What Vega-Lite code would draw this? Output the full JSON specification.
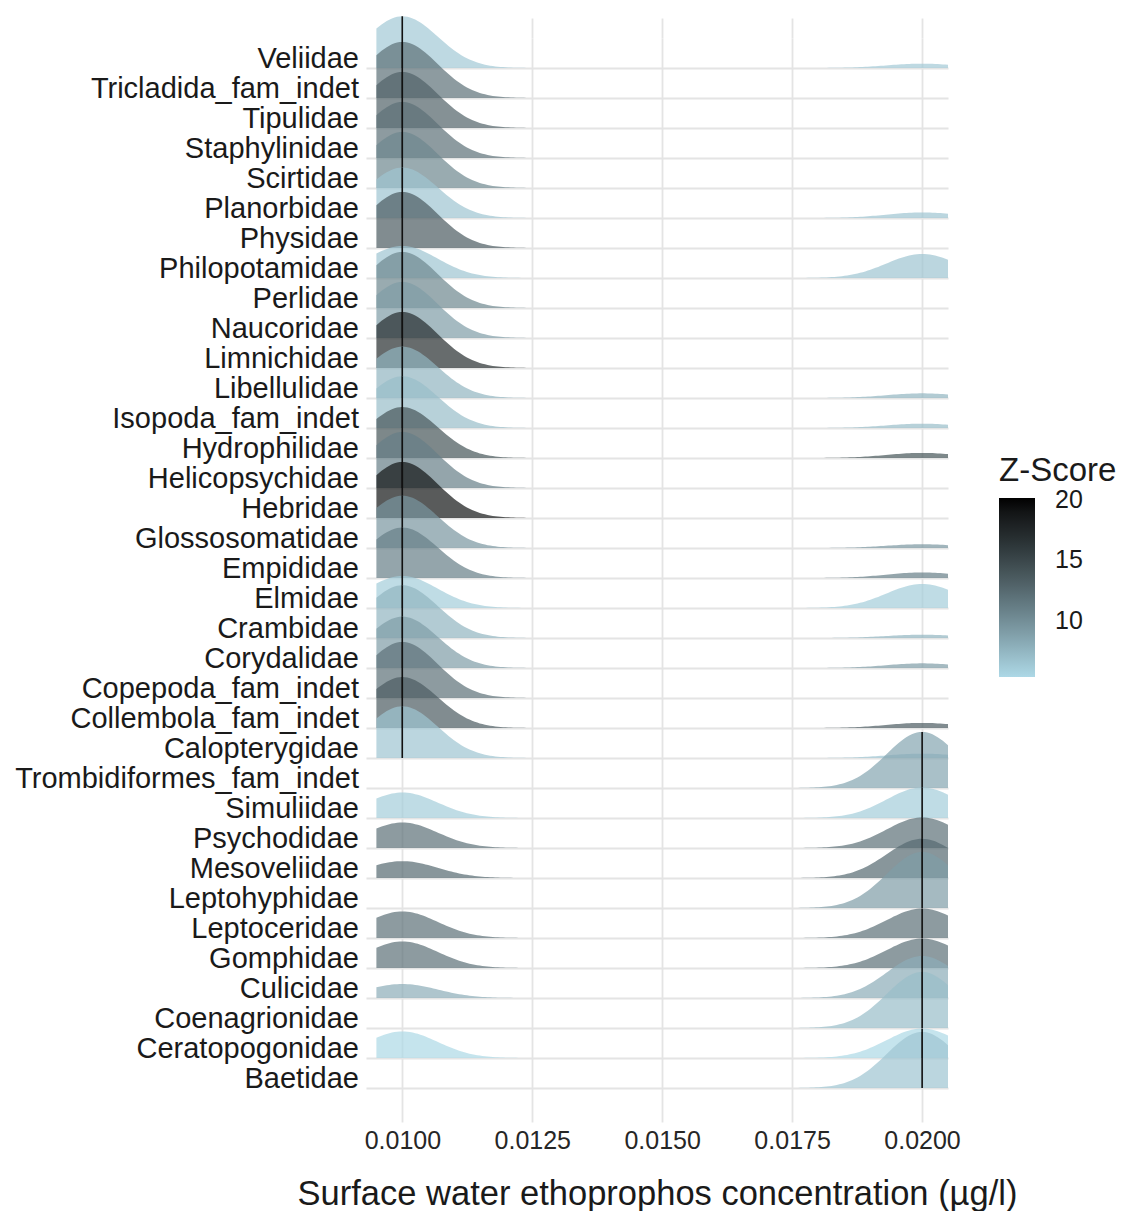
{
  "$schema": "https://vega.github.io/schema/vega-lite/v6.json",
  "padding": {"left": 15, "top": 15, "right": 0, "bottom": 0},
  "bounds": "flush",
  "config": {
    "font": "Liberation Sans",
    "view": {"stroke": null}
  },
  "data": {
    "values": [
      {"taxon": "Veliidae", "zscore": 6.2, "conc": 0.01}, {"taxon": "Veliidae", "zscore": 6.2, "conc": 0.01}, {"taxon": "Veliidae", "zscore": 6.2, "conc": 0.01}, {"taxon": "Veliidae", "zscore": 6.2, "conc": 0.01},
      {"taxon": "Veliidae", "zscore": 6.2, "conc": 0.01}, {"taxon": "Veliidae", "zscore": 6.2, "conc": 0.01}, {"taxon": "Veliidae", "zscore": 6.2, "conc": 0.01}, {"taxon": "Veliidae", "zscore": 6.2, "conc": 0.01},
      {"taxon": "Veliidae", "zscore": 6.2, "conc": 0.01}, {"taxon": "Veliidae", "zscore": 6.2, "conc": 0.01}, {"taxon": "Veliidae", "zscore": 6.2, "conc": 0.01}, {"taxon": "Veliidae", "zscore": 6.2, "conc": 0.01},
      {"taxon": "Veliidae", "zscore": 6.2, "conc": 0.02},
      {"taxon": "Tricladida_fam_indet", "zscore": 12, "conc": 0.01},
      {"taxon": "Tipulidae", "zscore": 13, "conc": 0.01},
      {"taxon": "Staphylinidae", "zscore": 12, "conc": 0.01},
      {"taxon": "Scirtidae", "zscore": 10.5, "conc": 0.01},
      {"taxon": "Planorbidae", "zscore": 6.5, "conc": 0.01}, {"taxon": "Planorbidae", "zscore": 6.5, "conc": 0.01}, {"taxon": "Planorbidae", "zscore": 6.5, "conc": 0.01},
      {"taxon": "Planorbidae", "zscore": 6.5, "conc": 0.01}, {"taxon": "Planorbidae", "zscore": 6.5, "conc": 0.01}, {"taxon": "Planorbidae", "zscore": 6.5, "conc": 0.01},
      {"taxon": "Planorbidae", "zscore": 6.5, "conc": 0.01}, {"taxon": "Planorbidae", "zscore": 6.5, "conc": 0.01}, {"taxon": "Planorbidae", "zscore": 6.5, "conc": 0.01},
      {"taxon": "Planorbidae", "zscore": 6.5, "conc": 0.02},
      {"taxon": "Physidae", "zscore": 13.5, "conc": 0.01},
      {"taxon": "Philopotamidae", "zscore": 6.5, "conc": 0.01}, {"taxon": "Philopotamidae", "zscore": 6.5, "conc": 0.01}, {"taxon": "Philopotamidae", "zscore": 6.5, "conc": 0.01}, {"taxon": "Philopotamidae", "zscore": 6.5, "conc": 0.01},
      {"taxon": "Philopotamidae", "zscore": 6.5, "conc": 0.02}, {"taxon": "Philopotamidae", "zscore": 6.5, "conc": 0.02}, {"taxon": "Philopotamidae", "zscore": 6.5, "conc": 0.02},
      {"taxon": "Perlidae", "zscore": 10.5, "conc": 0.01},
      {"taxon": "Naucoridae", "zscore": 9, "conc": 0.01},
      {"taxon": "Limnichidae", "zscore": 17, "conc": 0.01},
      {"taxon": "Libellulidae", "zscore": 7.5, "conc": 0.01}, {"taxon": "Libellulidae", "zscore": 7.5, "conc": 0.01}, {"taxon": "Libellulidae", "zscore": 7.5, "conc": 0.01}, {"taxon": "Libellulidae", "zscore": 7.5, "conc": 0.01},
      {"taxon": "Libellulidae", "zscore": 7.5, "conc": 0.01}, {"taxon": "Libellulidae", "zscore": 7.5, "conc": 0.01}, {"taxon": "Libellulidae", "zscore": 7.5, "conc": 0.01}, {"taxon": "Libellulidae", "zscore": 7.5, "conc": 0.01},
      {"taxon": "Libellulidae", "zscore": 7.5, "conc": 0.01}, {"taxon": "Libellulidae", "zscore": 7.5, "conc": 0.01}, {"taxon": "Libellulidae", "zscore": 7.5, "conc": 0.01},
      {"taxon": "Libellulidae", "zscore": 7.5, "conc": 0.02},
      {"taxon": "Isopoda_fam_indet", "zscore": 7, "conc": 0.01}, {"taxon": "Isopoda_fam_indet", "zscore": 7, "conc": 0.01}, {"taxon": "Isopoda_fam_indet", "zscore": 7, "conc": 0.01}, {"taxon": "Isopoda_fam_indet", "zscore": 7, "conc": 0.01},
      {"taxon": "Isopoda_fam_indet", "zscore": 7, "conc": 0.01}, {"taxon": "Isopoda_fam_indet", "zscore": 7, "conc": 0.01}, {"taxon": "Isopoda_fam_indet", "zscore": 7, "conc": 0.01}, {"taxon": "Isopoda_fam_indet", "zscore": 7, "conc": 0.01},
      {"taxon": "Isopoda_fam_indet", "zscore": 7, "conc": 0.01}, {"taxon": "Isopoda_fam_indet", "zscore": 7, "conc": 0.01}, {"taxon": "Isopoda_fam_indet", "zscore": 7, "conc": 0.01}, {"taxon": "Isopoda_fam_indet", "zscore": 7, "conc": 0.01},
      {"taxon": "Isopoda_fam_indet", "zscore": 7, "conc": 0.02},
      {"taxon": "Hydrophilidae", "zscore": 14, "conc": 0.01}, {"taxon": "Hydrophilidae", "zscore": 14, "conc": 0.01}, {"taxon": "Hydrophilidae", "zscore": 14, "conc": 0.01}, {"taxon": "Hydrophilidae", "zscore": 14, "conc": 0.01},
      {"taxon": "Hydrophilidae", "zscore": 14, "conc": 0.01}, {"taxon": "Hydrophilidae", "zscore": 14, "conc": 0.01}, {"taxon": "Hydrophilidae", "zscore": 14, "conc": 0.01}, {"taxon": "Hydrophilidae", "zscore": 14, "conc": 0.01},
      {"taxon": "Hydrophilidae", "zscore": 14, "conc": 0.01}, {"taxon": "Hydrophilidae", "zscore": 14, "conc": 0.01},
      {"taxon": "Hydrophilidae", "zscore": 14, "conc": 0.02},
      {"taxon": "Helicopsychidae", "zscore": 11, "conc": 0.01},
      {"taxon": "Hebridae", "zscore": 19, "conc": 0.01},
      {"taxon": "Glossosomatidae", "zscore": 9.5, "conc": 0.01}, {"taxon": "Glossosomatidae", "zscore": 9.5, "conc": 0.01}, {"taxon": "Glossosomatidae", "zscore": 9.5, "conc": 0.01}, {"taxon": "Glossosomatidae", "zscore": 9.5, "conc": 0.01},
      {"taxon": "Glossosomatidae", "zscore": 9.5, "conc": 0.01}, {"taxon": "Glossosomatidae", "zscore": 9.5, "conc": 0.01}, {"taxon": "Glossosomatidae", "zscore": 9.5, "conc": 0.01}, {"taxon": "Glossosomatidae", "zscore": 9.5, "conc": 0.01},
      {"taxon": "Glossosomatidae", "zscore": 9.5, "conc": 0.01}, {"taxon": "Glossosomatidae", "zscore": 9.5, "conc": 0.01}, {"taxon": "Glossosomatidae", "zscore": 9.5, "conc": 0.01}, {"taxon": "Glossosomatidae", "zscore": 9.5, "conc": 0.01},
      {"taxon": "Glossosomatidae", "zscore": 9.5, "conc": 0.01}, {"taxon": "Glossosomatidae", "zscore": 9.5, "conc": 0.01},
      {"taxon": "Glossosomatidae", "zscore": 9.5, "conc": 0.02},
      {"taxon": "Empididae", "zscore": 11, "conc": 0.01}, {"taxon": "Empididae", "zscore": 11, "conc": 0.01}, {"taxon": "Empididae", "zscore": 11, "conc": 0.01}, {"taxon": "Empididae", "zscore": 11, "conc": 0.01},
      {"taxon": "Empididae", "zscore": 11, "conc": 0.01}, {"taxon": "Empididae", "zscore": 11, "conc": 0.01}, {"taxon": "Empididae", "zscore": 11, "conc": 0.01}, {"taxon": "Empididae", "zscore": 11, "conc": 0.01},
      {"taxon": "Empididae", "zscore": 11, "conc": 0.01},
      {"taxon": "Empididae", "zscore": 11, "conc": 0.02},
      {"taxon": "Elmidae", "zscore": 6, "conc": 0.01}, {"taxon": "Elmidae", "zscore": 6, "conc": 0.01}, {"taxon": "Elmidae", "zscore": 6, "conc": 0.01}, {"taxon": "Elmidae", "zscore": 6, "conc": 0.01},
      {"taxon": "Elmidae", "zscore": 6, "conc": 0.02}, {"taxon": "Elmidae", "zscore": 6, "conc": 0.02}, {"taxon": "Elmidae", "zscore": 6, "conc": 0.02},
      {"taxon": "Crambidae", "zscore": 7.5, "conc": 0.01}, {"taxon": "Crambidae", "zscore": 7.5, "conc": 0.01}, {"taxon": "Crambidae", "zscore": 7.5, "conc": 0.01}, {"taxon": "Crambidae", "zscore": 7.5, "conc": 0.01},
      {"taxon": "Crambidae", "zscore": 7.5, "conc": 0.01}, {"taxon": "Crambidae", "zscore": 7.5, "conc": 0.01}, {"taxon": "Crambidae", "zscore": 7.5, "conc": 0.01}, {"taxon": "Crambidae", "zscore": 7.5, "conc": 0.01},
      {"taxon": "Crambidae", "zscore": 7.5, "conc": 0.01}, {"taxon": "Crambidae", "zscore": 7.5, "conc": 0.01}, {"taxon": "Crambidae", "zscore": 7.5, "conc": 0.01}, {"taxon": "Crambidae", "zscore": 7.5, "conc": 0.01},
      {"taxon": "Crambidae", "zscore": 7.5, "conc": 0.01}, {"taxon": "Crambidae", "zscore": 7.5, "conc": 0.01}, {"taxon": "Crambidae", "zscore": 7.5, "conc": 0.01}, {"taxon": "Crambidae", "zscore": 7.5, "conc": 0.01},
      {"taxon": "Crambidae", "zscore": 7.5, "conc": 0.02},
      {"taxon": "Corydalidae", "zscore": 9, "conc": 0.01}, {"taxon": "Corydalidae", "zscore": 9, "conc": 0.01}, {"taxon": "Corydalidae", "zscore": 9, "conc": 0.01}, {"taxon": "Corydalidae", "zscore": 9, "conc": 0.01},
      {"taxon": "Corydalidae", "zscore": 9, "conc": 0.01}, {"taxon": "Corydalidae", "zscore": 9, "conc": 0.01}, {"taxon": "Corydalidae", "zscore": 9, "conc": 0.01}, {"taxon": "Corydalidae", "zscore": 9, "conc": 0.01},
      {"taxon": "Corydalidae", "zscore": 9, "conc": 0.01}, {"taxon": "Corydalidae", "zscore": 9, "conc": 0.01}, {"taxon": "Corydalidae", "zscore": 9, "conc": 0.01},
      {"taxon": "Corydalidae", "zscore": 9, "conc": 0.02},
      {"taxon": "Copepoda_fam_indet", "zscore": 12, "conc": 0.01},
      {"taxon": "Collembola_fam_indet", "zscore": 13.5, "conc": 0.01}, {"taxon": "Collembola_fam_indet", "zscore": 13.5, "conc": 0.01}, {"taxon": "Collembola_fam_indet", "zscore": 13.5, "conc": 0.01}, {"taxon": "Collembola_fam_indet", "zscore": 13.5, "conc": 0.01},
      {"taxon": "Collembola_fam_indet", "zscore": 13.5, "conc": 0.01}, {"taxon": "Collembola_fam_indet", "zscore": 13.5, "conc": 0.01}, {"taxon": "Collembola_fam_indet", "zscore": 13.5, "conc": 0.01}, {"taxon": "Collembola_fam_indet", "zscore": 13.5, "conc": 0.01},
      {"taxon": "Collembola_fam_indet", "zscore": 13.5, "conc": 0.01}, {"taxon": "Collembola_fam_indet", "zscore": 13.5, "conc": 0.01},
      {"taxon": "Collembola_fam_indet", "zscore": 13.5, "conc": 0.02},
      {"taxon": "Calopterygidae", "zscore": 6.5, "conc": 0.01}, {"taxon": "Calopterygidae", "zscore": 6.5, "conc": 0.01}, {"taxon": "Calopterygidae", "zscore": 6.5, "conc": 0.01}, {"taxon": "Calopterygidae", "zscore": 6.5, "conc": 0.01},
      {"taxon": "Calopterygidae", "zscore": 6.5, "conc": 0.01}, {"taxon": "Calopterygidae", "zscore": 6.5, "conc": 0.01}, {"taxon": "Calopterygidae", "zscore": 6.5, "conc": 0.01}, {"taxon": "Calopterygidae", "zscore": 6.5, "conc": 0.01},
      {"taxon": "Calopterygidae", "zscore": 6.5, "conc": 0.01}, {"taxon": "Calopterygidae", "zscore": 6.5, "conc": 0.01}, {"taxon": "Calopterygidae", "zscore": 6.5, "conc": 0.01}, {"taxon": "Calopterygidae", "zscore": 6.5, "conc": 0.01},
      {"taxon": "Calopterygidae", "zscore": 6.5, "conc": 0.02},
      {"taxon": "Trombidiformes_fam_indet", "zscore": 8.5, "conc": 0.02},
      {"taxon": "Simuliidae", "zscore": 6, "conc": 0.01}, {"taxon": "Simuliidae", "zscore": 6, "conc": 0.01}, {"taxon": "Simuliidae", "zscore": 6, "conc": 0.01}, {"taxon": "Simuliidae", "zscore": 6, "conc": 0.01}, {"taxon": "Simuliidae", "zscore": 6, "conc": 0.01},
      {"taxon": "Simuliidae", "zscore": 6, "conc": 0.02}, {"taxon": "Simuliidae", "zscore": 6, "conc": 0.02}, {"taxon": "Simuliidae", "zscore": 6, "conc": 0.02}, {"taxon": "Simuliidae", "zscore": 6, "conc": 0.02}, {"taxon": "Simuliidae", "zscore": 6, "conc": 0.02}, {"taxon": "Simuliidae", "zscore": 6, "conc": 0.02},
      {"taxon": "Psychodidae", "zscore": 12, "conc": 0.01}, {"taxon": "Psychodidae", "zscore": 12, "conc": 0.01}, {"taxon": "Psychodidae", "zscore": 12, "conc": 0.01}, {"taxon": "Psychodidae", "zscore": 12, "conc": 0.01}, {"taxon": "Psychodidae", "zscore": 12, "conc": 0.01},
      {"taxon": "Psychodidae", "zscore": 12, "conc": 0.02}, {"taxon": "Psychodidae", "zscore": 12, "conc": 0.02}, {"taxon": "Psychodidae", "zscore": 12, "conc": 0.02}, {"taxon": "Psychodidae", "zscore": 12, "conc": 0.02}, {"taxon": "Psychodidae", "zscore": 12, "conc": 0.02}, {"taxon": "Psychodidae", "zscore": 12, "conc": 0.02},
      {"taxon": "Mesoveliidae", "zscore": 12.5, "conc": 0.01}, {"taxon": "Mesoveliidae", "zscore": 12.5, "conc": 0.01}, {"taxon": "Mesoveliidae", "zscore": 12.5, "conc": 0.01},
      {"taxon": "Mesoveliidae", "zscore": 12.5, "conc": 0.02}, {"taxon": "Mesoveliidae", "zscore": 12.5, "conc": 0.02}, {"taxon": "Mesoveliidae", "zscore": 12.5, "conc": 0.02}, {"taxon": "Mesoveliidae", "zscore": 12.5, "conc": 0.02},
      {"taxon": "Mesoveliidae", "zscore": 12.5, "conc": 0.02}, {"taxon": "Mesoveliidae", "zscore": 12.5, "conc": 0.02}, {"taxon": "Mesoveliidae", "zscore": 12.5, "conc": 0.02},
      {"taxon": "Leptohyphidae", "zscore": 9, "conc": 0.02},
      {"taxon": "Leptoceridae", "zscore": 12, "conc": 0.01}, {"taxon": "Leptoceridae", "zscore": 12, "conc": 0.01}, {"taxon": "Leptoceridae", "zscore": 12, "conc": 0.01}, {"taxon": "Leptoceridae", "zscore": 12, "conc": 0.01}, {"taxon": "Leptoceridae", "zscore": 12, "conc": 0.01},
      {"taxon": "Leptoceridae", "zscore": 12, "conc": 0.01}, {"taxon": "Leptoceridae", "zscore": 12, "conc": 0.01}, {"taxon": "Leptoceridae", "zscore": 12, "conc": 0.01}, {"taxon": "Leptoceridae", "zscore": 12, "conc": 0.01},
      {"taxon": "Leptoceridae", "zscore": 12, "conc": 0.02}, {"taxon": "Leptoceridae", "zscore": 12, "conc": 0.02}, {"taxon": "Leptoceridae", "zscore": 12, "conc": 0.02}, {"taxon": "Leptoceridae", "zscore": 12, "conc": 0.02}, {"taxon": "Leptoceridae", "zscore": 12, "conc": 0.02},
      {"taxon": "Leptoceridae", "zscore": 12, "conc": 0.02}, {"taxon": "Leptoceridae", "zscore": 12, "conc": 0.02}, {"taxon": "Leptoceridae", "zscore": 12, "conc": 0.02}, {"taxon": "Leptoceridae", "zscore": 12, "conc": 0.02}, {"taxon": "Leptoceridae", "zscore": 12, "conc": 0.02},
      {"taxon": "Gomphidae", "zscore": 12, "conc": 0.01}, {"taxon": "Gomphidae", "zscore": 12, "conc": 0.01}, {"taxon": "Gomphidae", "zscore": 12, "conc": 0.01}, {"taxon": "Gomphidae", "zscore": 12, "conc": 0.01}, {"taxon": "Gomphidae", "zscore": 12, "conc": 0.01},
      {"taxon": "Gomphidae", "zscore": 12, "conc": 0.01}, {"taxon": "Gomphidae", "zscore": 12, "conc": 0.01}, {"taxon": "Gomphidae", "zscore": 12, "conc": 0.01}, {"taxon": "Gomphidae", "zscore": 12, "conc": 0.01},
      {"taxon": "Gomphidae", "zscore": 12, "conc": 0.02}, {"taxon": "Gomphidae", "zscore": 12, "conc": 0.02}, {"taxon": "Gomphidae", "zscore": 12, "conc": 0.02}, {"taxon": "Gomphidae", "zscore": 12, "conc": 0.02}, {"taxon": "Gomphidae", "zscore": 12, "conc": 0.02},
      {"taxon": "Gomphidae", "zscore": 12, "conc": 0.02}, {"taxon": "Gomphidae", "zscore": 12, "conc": 0.02}, {"taxon": "Gomphidae", "zscore": 12, "conc": 0.02}, {"taxon": "Gomphidae", "zscore": 12, "conc": 0.02}, {"taxon": "Gomphidae", "zscore": 12, "conc": 0.02},
      {"taxon": "Culicidae", "zscore": 8, "conc": 0.01},
      {"taxon": "Culicidae", "zscore": 8, "conc": 0.02}, {"taxon": "Culicidae", "zscore": 8, "conc": 0.02}, {"taxon": "Culicidae", "zscore": 8, "conc": 0.02},
      {"taxon": "Coenagrionidae", "zscore": 7, "conc": 0.02},
      {"taxon": "Ceratopogonidae", "zscore": 5.3, "conc": 0.01}, {"taxon": "Ceratopogonidae", "zscore": 5.3, "conc": 0.01}, {"taxon": "Ceratopogonidae", "zscore": 5.3, "conc": 0.01}, {"taxon": "Ceratopogonidae", "zscore": 5.3, "conc": 0.01}, {"taxon": "Ceratopogonidae", "zscore": 5.3, "conc": 0.01},
      {"taxon": "Ceratopogonidae", "zscore": 5.3, "conc": 0.01}, {"taxon": "Ceratopogonidae", "zscore": 5.3, "conc": 0.01}, {"taxon": "Ceratopogonidae", "zscore": 5.3, "conc": 0.01}, {"taxon": "Ceratopogonidae", "zscore": 5.3, "conc": 0.01},
      {"taxon": "Ceratopogonidae", "zscore": 5.3, "conc": 0.02}, {"taxon": "Ceratopogonidae", "zscore": 5.3, "conc": 0.02}, {"taxon": "Ceratopogonidae", "zscore": 5.3, "conc": 0.02}, {"taxon": "Ceratopogonidae", "zscore": 5.3, "conc": 0.02}, {"taxon": "Ceratopogonidae", "zscore": 5.3, "conc": 0.02},
      {"taxon": "Ceratopogonidae", "zscore": 5.3, "conc": 0.02}, {"taxon": "Ceratopogonidae", "zscore": 5.3, "conc": 0.02}, {"taxon": "Ceratopogonidae", "zscore": 5.3, "conc": 0.02}, {"taxon": "Ceratopogonidae", "zscore": 5.3, "conc": 0.02}, {"taxon": "Ceratopogonidae", "zscore": 5.3, "conc": 0.02},
      {"taxon": "Baetidae", "zscore": 6.5, "conc": 0.02}
    ]
  },
  "transform": [
    {"joinaggregate": [{"op": "median", "field": "conc", "as": "med"}], "groupby": ["taxon"]},
    {"density": "conc", "groupby": ["taxon", "zscore", "med"], "bandwidth": 0.00068, "extent": [0.0095, 0.0205], "steps": 221}
  ],
  "facet": {
    "row": {
      "field": "taxon",
      "type": "nominal",
      "title": null,
      "sort": ["Veliidae", "Tricladida_fam_indet", "Tipulidae", "Staphylinidae", "Scirtidae", "Planorbidae", "Physidae", "Philopotamidae", "Perlidae", "Naucoridae", "Limnichidae", "Libellulidae", "Isopoda_fam_indet", "Hydrophilidae", "Helicopsychidae", "Hebridae", "Glossosomatidae", "Empididae", "Elmidae", "Crambidae", "Corydalidae", "Copepoda_fam_indet", "Collembola_fam_indet", "Calopterygidae", "Trombidiformes_fam_indet", "Simuliidae", "Psychodidae", "Mesoveliidae", "Leptohyphidae", "Leptoceridae", "Gomphidae", "Culicidae", "Coenagrionidae", "Ceratopogonidae", "Baetidae"],
      "header": {
        "labelOrient": "left",
        "labelAngle": 0,
        "labelAlign": "left",
        "labelAnchor": "start",
        "labelBaseline": "alphabetic",
        "labelFontSize": 29,
        "labelColor": "#1a1a1a",
        "labelPadding": 7
      }
    }
  },
  "spacing": {"row": 0},
  "spec": {
    "width": 582,
    "height": 30,
    "layer": [
      {
        "mark": {"type": "area", "fillOpacity": 0.7},
        "encoding": {
          "x": {
            "field": "value",
            "type": "quantitative",
            "scale": {"domain": [0.0093, 0.0205], "nice": false, "zero": false},
            "axis": {
              "orient": "bottom",
              "values": [0.01, 0.0125, 0.015, 0.0175, 0.02],
              "format": ".4f",
              "grid": true,
              "gridColor": "#e4e4e4",
              "gridWidth": 1.8,
              "domain": false,
              "ticks": true,
              "tickColor": "#e4e4e4",
              "tickWidth": 1.8,
              "tickSize": 34,
              "labelFontSize": 25,
              "labelColor": "#262626",
              "labelPadding": 6,
              "title": "Surface water ethoprophos concentration (µg/l)",
              "titleFontSize": 34.5,
              "titleFontWeight": "normal",
              "titleColor": "#1a1a1a",
              "titlePadding": 24
            }
          },
          "y": {
            "field": "density",
            "type": "quantitative",
            "scale": {"domain": [0, 314], "nice": false},
            "axis": {"values": [0], "grid": true, "gridColor": "#e4e4e4", "gridWidth": 1.8, "labels": false, "ticks": false, "domain": false, "title": null}
          },
          "fill": {
            "field": "zscore",
            "type": "quantitative",
            "scale": {"domain": [5.3, 20.2], "range": ["#add8e6", "#000000"], "interpolate": "lab"},
            "legend": {
              "orient": "none",
              "legendX": 633,
              "legendY": 417,
              "direction": "vertical",
              "title": "Z-Score",
              "titleFontSize": 33,
              "titleFontWeight": "normal",
              "titleColor": "#1a1a1a",
              "titlePadding": 10,
              "gradientLength": 179,
              "gradientThickness": 36,
              "gradientStrokeWidth": 0,
              "values": [10, 15, 20],
              "labelFontSize": 25,
              "labelColor": "#1a1a1a",
              "labelOffset": 20
            }
          },
          "detail": {"field": "zscore"}
        }
      },
      {
        "transform": [{"filter": "abs(datum.value - datum.med) < 0.00001"}],
        "mark": {"type": "rule", "color": "#111111", "strokeWidth": 1.6},
        "encoding": {
          "x": {
            "field": "value",
            "type": "quantitative",
            "axis": {"orient": "top", "values": [0.01, 0.0125, 0.015, 0.0175, 0.02], "grid": false, "labels": false, "domain": false, "ticks": true, "tickColor": "#e4e4e4", "tickWidth": 1.8, "tickSize": 20, "title": null}
          },
          "y": {"field": "density", "type": "quantitative"},
          "y2": {"datum": 0}
        }
      }
    ],
    "resolve": {"axis": {"x": "independent"}}
  }
}
